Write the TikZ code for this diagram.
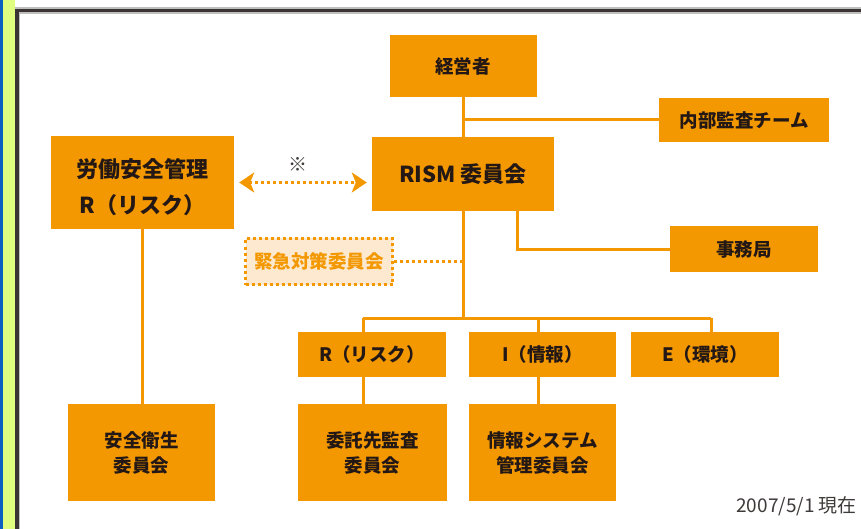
\documentclass[tikz,border=0pt]{standalone}
\usepackage{fontspec}
\setmainfont{Noto Sans CJK JP}
\usetikzlibrary{arrows.meta}
\definecolor{org}{HTML}{F39800}
\definecolor{txt}{HTML}{231815}
\definecolor{lightorg}{HTML}{FCE9CF}
\definecolor{lime}{HTML}{E0FF80}
\definecolor{stripblue}{HTML}{0A5FC0}
\definecolor{framedark}{HTML}{3A3434}
\definecolor{datecol}{HTML}{3E3A39}
\tikzset{
  box/.style={fill=org, draw=none, inner sep=0pt, text=txt, align=center,
    font=\bfseries\fontsize{18.5}{25}\selectfont},
  bigbox/.style={box, font=\bfseries\fontsize{22}{36}\selectfont},
  boxlabel/.style={inner sep=0pt, text=txt, align=center, font=\bfseries\fontsize{22}{36}\selectfont},
  dotbox/.style={fill=lightorg, draw=org, line width=3pt, dash pattern=on 3pt off 3pt,
    inner sep=0pt, text=org, font=\bfseries\fontsize{18.5}{25}\selectfont},
  conn/.style={draw=org, line width=3pt},
  dotconn/.style={draw=org, line width=3pt, dash pattern=on 3pt off 3pt},
  dblarrow/.style={dotconn, {Stealth[length=15pt,width=20pt,inset=4pt]}-{Stealth[length=15pt,width=20pt,inset=4pt]}},
}
\begin{document}
\begin{tikzpicture}[x=1pt,y=-1pt]
\useasboundingbox (0,0) rectangle (861,529);
\fill[white] (0,0) rectangle (861,529);
% left strip and frame
\fill[stripblue] (0,0) rectangle (2.5,529);
\fill[lime] (2.5,0) rectangle (15,529);
\fill[black!25] (15,7) rectangle (861,14);
\fill[black!25] (15,7) rectangle (19.5,529);
\fill[framedark] (15,9) rectangle (861,12.5);
\fill[framedark] (15,9) rectangle (18.5,529);

% nodes
\node[box, minimum width=147pt, minimum height=62pt] (top) at (463,66) {経営者};
\node[bigbox, minimum width=182pt, minimum height=74pt] (rism) at (463,174) {RISM 委員会};
\node[box, minimum width=170pt, minimum height=44pt] (audit) at (744,120) {内部監査チーム};
\node[box, minimum width=148pt, minimum height=45pt] (office) at (744,249) {事務局};
\node[bigbox, minimum width=183pt, minimum height=93pt] (left) at (142.5,182.5) {};
\node[boxlabel] (lefttext) at ([yshift=-5pt]left.center) {労働安全管理\\R（リスク）};
\node[dotbox, minimum width=147pt, minimum height=46pt] (emerg) at (319,261.5) {緊急対策委員会};
\node[box, minimum width=148pt, minimum height=45pt] (rR) at (372,354.5) {R（リスク）};
\node[box, minimum width=147pt, minimum height=45pt] (rI) at (542.5,354.5) {I（情報）};
\node[box, minimum width=148pt, minimum height=45pt] (rE) at (705,354.5) {E（環境）};
\node[box, minimum width=149pt, minimum height=97pt] (bR) at (372.5,452.5) {委託先監査\\委員会};
\node[box, minimum width=147pt, minimum height=97pt] (bI) at (542.5,452.5) {情報システム\\管理委員会};
\node[box, minimum width=147pt, minimum height=97pt] (bL) at (141.5,452.5) {安全衛生\\委員会};
\node[text=datecol, font=\fontsize{19}{20}\selectfont, anchor=east, inner sep=0pt] (date) at (857,506) {2007/5/1 現在};
\node[text=datecol, font=\bfseries\fontsize{19}{20}\selectfont, inner sep=0pt] (mark) at (298,164) {※};

% connectors
\coordinate (xR) at (363,318);
\coordinate (xI) at (538,318);
\coordinate (xE) at (711,318);
\draw[conn] (top.south) -- (rism.north);
\draw[conn] (audit.west) -- (audit.west -| top.south);
\draw[conn] ([xshift=54pt]rism.south) |- (office.west);
\draw[conn] (rism.south) -- (rism.south |- xR);
\draw[conn] (xR) -- (xE);
\draw[conn] (xR) -- (xR |- rR.north);
\draw[conn] (xI) -- (xI |- rI.north);
\draw[conn] (xE) -- (xE |- rE.north);
\draw[conn] (xR |- rR.south) -- (xR |- bR.north);
\draw[conn] (xI |- rI.south) -- (xI |- bI.north);
\draw[conn] (left.south) -- (left.south |- bL.north);
\draw[dotconn] (emerg.east) -- (emerg.east -| rism.south);
\draw[dblarrow] ([xshift=5pt]left.east) -- ([xshift=-5pt]left.east -| rism.west);
\end{tikzpicture}
\end{document}
